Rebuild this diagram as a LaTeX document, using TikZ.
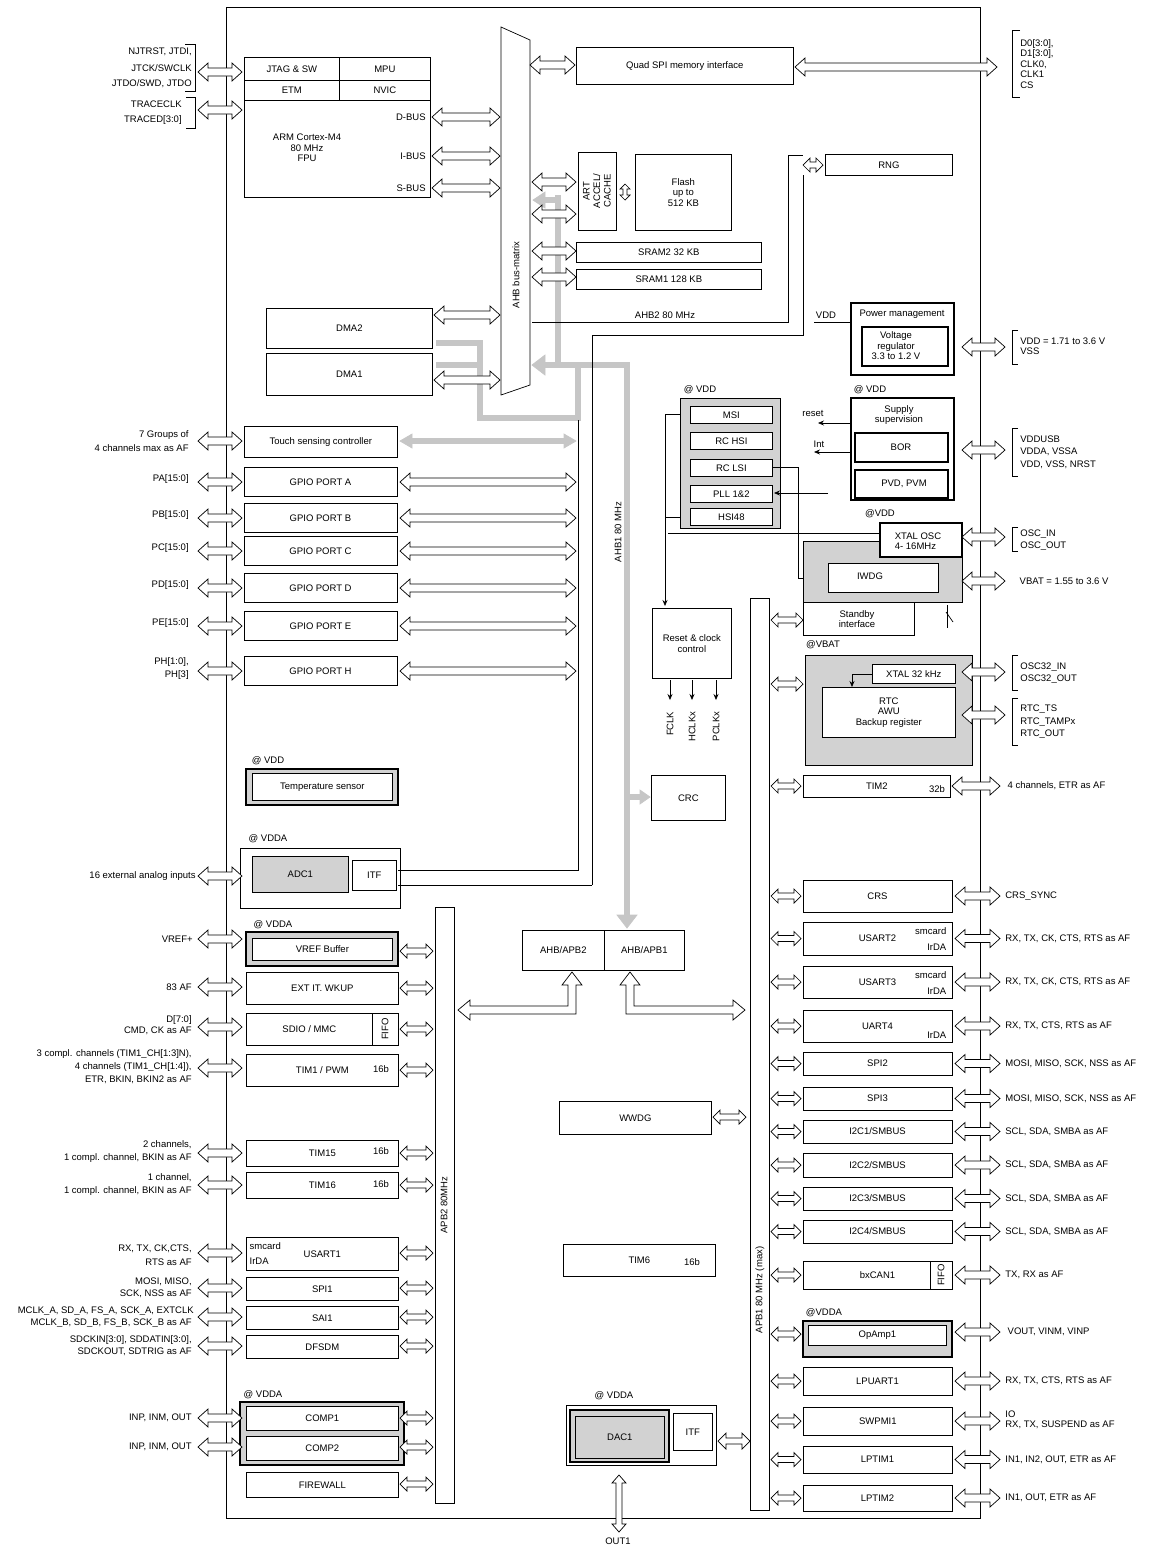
\documentclass[tikz,border=0pt]{standalone}
\usepackage{fontspec}
\setmainfont{Liberation Sans}
\usetikzlibrary{arrows.meta}
\newcommand\ha[6]{\draw[fill=white] (#1,#3) -- (#1+#4,#3-#5) -- (#1+#4,#3-#6) -- (#2-#4,#3-#6) -- (#2-#4,#3-#5) -- (#2,#3) -- (#2-#4,#3+#5) -- (#2-#4,#3+#6) -- (#1+#4,#3+#6) -- (#1+#4,#3+#5) -- cycle;}
\newcommand\va[6]{\draw[fill=white] (#3,#1) -- (#3-#5,#1+#4) -- (#3-#6,#1+#4) -- (#3-#6,#2-#4) -- (#3-#5,#2-#4) -- (#3,#2) -- (#3+#5,#2-#4) -- (#3+#6,#2-#4) -- (#3+#6,#1+#4) -- (#3+#5,#1+#4) -- cycle;}
\newcommand\harr[3]{\ha{#1}{#2}{#3}{10}{9}{4}}
\newcommand\sarr[3]{\ha{#1}{#2}{#3}{7}{7}{3}}
\newcommand\bx[6][]{\node[draw,fill=white,inner sep=0pt,minimum width={#4-#2},minimum height={#5-#3},anchor=north west,align=center,#1] (#2-#3) at (#2,#3) {#6};}
\newcommand\gbx[5]{\draw[fill=gray!35] (#1,#2) rectangle (#3,#4);}
\newcommand\lbl[3][left]{\node[#1,align=right,inner sep=1pt] at #2 {#3};}
\begin{document}
\begin{tikzpicture}[x=1pt,y=-1pt,font=\fontsize{9.5}{10.5}\selectfont,line width=0.7pt,
 garr/.style={draw=gray!45,line width=6pt},
 tip/.style={-{Stealth[length=6pt,width=5pt]}}]
\useasboundingbox (0,0) rectangle (1164,1548);
\draw[line width=1pt] (226,7) rectangle (980,1518);
% ---- CPU
\bx{244}{57}{339}{80}{JTAG \& SW}\bx{339}{57}{430}{80}{MPU}
\bx{244}{80}{339}{100}{ETM}\bx{339}{80}{430}{100}{NVIC}
\draw (244,100) rectangle (430,197);
\node[align=center] at (307,148) {ARM Cortex-M4\\80 MHz\\FPU};
\lbl{(427,117)}{D-BUS}\lbl{(427,156)}{I-BUS}\lbl{(427,188)}{S-BUS}
\harr{432}{500}{117}\harr{432}{500}{156}\harr{432}{500}{188}
\lbl{(193,52)}{NJTRST, JTDI,}\lbl{(193,68)}{JTCK/SWCLK}\lbl{(193,84)}{JTDO/SWD, JTDO}
\lbl{(183,104)}{TRACECLK}\lbl{(183,120)}{TRACED[3:0]}
\draw (185,44)--(195,44)--(195,91)--(185,91); \draw (186,97)--(195,97)--(195,128)--(186,128);
\harr{198}{242}{72}\harr{198}{242}{110}
% bus matrix
\draw[fill=white] (501,27)--(530,40)--(530,385)--(501,395)--cycle;
\node[rotate=90] at (516,275) {AHB bus-matrix};
% gray paths
\draw[garr] (558,195)--(558,365); \draw[garr] (540,365)--(627,365)--(627,915);
\draw[fill=gray!45,draw=gray!45] (617,915)--(637,915)--(627,928)--cycle;
\draw[fill=gray!45,draw=gray!45] (532,365)--(545,355)--(545,375)--cycle;
\draw[garr] (545,200)--(558,200); \draw[fill=gray!45,draw=gray!45] (533,200)--(545,192)--(545,208)--cycle;
\draw[garr] (436,343)--(480,343)--(480,418)--(578,418)--(578,365);
\draw[garr] (436,365)--(480,365);
\draw[garr] (411,441)--(565,441);
\draw[fill=gray!45,draw=gray!45] (400,441)--(412,434)--(412,448)--cycle;
\draw[fill=gray!45,draw=gray!45] (576,441)--(564,434)--(564,448)--cycle;
\draw[garr] (627,797)--(640,797); \draw[fill=gray!45,draw=gray!45] (650,797)--(640,790)--(640,804)--cycle;
% Quad SPI
\bx{576}{47}{793}{84}{Quad SPI memory interface}
\harr{530}{575}{65}\harr{795}{997}{67}
\draw (1020,30)--(1012,30)--(1012,97)--(1020,97);
\node[right,align=left,inner sep=0] at (1020,64) {D0[3:0],\\D1[3:0],\\CLK0,\\CLK1\\CS};
% flash
\bx{578}{152}{616}{230}{}\node[rotate=90,align=center] at (597,191) {ART\\ACCEL/\\CACHE};
\bx{635}{154}{731}{230}{Flash\\up to\\512 KB}
\va{184}{200}{625}{5}{5}{2}
\harr{532}{576}{182}\harr{532}{576}{214}\harr{532}{576}{251}\harr{532}{576}{277}
\bx{576}{242}{761}{262}{SRAM2 32 KB}\bx{576}{269}{761}{289}{SRAM1 128 KB}
% AHB2
\draw (532,322)--(788,322)--(788,155)--(803,155);
\node[above] at (665,322) {AHB2 80 MHz};
\draw (592,885)--(592,335)--(803,335)--(803,175);
\sarr{803}{823}{165}
\bx{825}{154}{952}{175}{RNG}
\draw (398,870)--(578,870)--(578,420);
\draw (398,885)--(592,885);
% power
\draw[line width=1.5pt] (851,303) rectangle (954,375);
\node at (902,314) {Power management};
\draw[line width=1.5pt] (862,327) rectangle (948,366);
\node[align=center] at (896,346) {Voltage\\regulator\\3.3 to 1.2 V};
\node at (826,315) {VDD}; \draw (814,322)--(851,322)--(851,340);
\harr{962}{1005}{347}
\draw (1018,330)--(1012,330)--(1012,364)--(1018,364);
\node[right,align=left,inner sep=0] at (1020,346) {VDD = 1.71 to 3.6 V\\VSS};
% DMA
\bx{266}{308}{432}{348}{DMA2}\bx{266}{353}{432}{395}{DMA1}
\harr{434}{500}{315}\harr{434}{500}{380}
% clocks
\node at (700,390) {@ VDD};
\gbx{680}{398}{780}{528}{}
\bx{690}{406}{772}{423}{MSI}\bx{690}{432}{772}{449}{RC HSI}\bx{690}{459}{772}{476}{RC LSI}
\bx{690}{485}{772}{502}{PLL 1\&2}\bx{690}{508}{772}{525}{HSI48}
\draw (680,414)--(665,414)--(665,517)--(680,517);
\draw[tip] (665,517)--(665,606);
\draw (772,467)--(798,467)--(798,578); \draw[tip] (798,578)--(826,578);
\draw[tip] (828,493)--(774,493);
\draw (668,533)--(880,533);
\bx{652}{608}{731}{678}{Reset \& clock\\control}
\draw[tip] (670,680)--(670,700);\draw[tip] (692,680)--(692,700);\draw[tip] (716,680)--(716,700);
\node[rotate=90,left] at (670,708) {FCLK};\node[rotate=90,left] at (692,708) {HCLKx};\node[rotate=90,left] at (716,708) {PCLKx};
% supply
\node at (870,390) {@ VDD};
\draw[line width=1.5pt] (851,398) rectangle (954,500);
\node[align=center] at (899,415) {Supply\\supervision};
\draw[line width=1.5pt] (855,433) rectangle (948,462); \node at (901,447) {BOR};
\draw[line width=1.5pt] (855,470) rectangle (948,498); \node at (904,484) {PVD, PVM};
\node at (813,413) {reset}; \draw[tip] (851,423)--(818,423);
\node at (819,444) {Int}; \draw[tip] (851,452)--(814,452);
\harr{962}{1005}{450}
\draw (1018,428)--(1012,428)--(1012,476)--(1018,476);
\node[right,align=left,inner sep=0] at (1020,452) {VDDUSB\\[2pt]VDDA, VSSA\\[2pt]VDD, VSS, NRST};
% xtal osc
\node at (880,514) {@VDD};
\gbx{803}{541}{962}{602}{}
\draw[fill=white] (828,563) rectangle (938,592); \node at (870,576) {IWDG};
\draw[line width=1.5pt,fill=white] (880,523) rectangle (962,557);
\node[align=left] at (918,541) {XTAL OSC\\4- 16MHz};
\draw (803,602) rectangle (914,635); \node[align=center] at (857,619) {Standby\\interface};
\draw (946,612)--(953,622); \draw (947,605)--(947,628);
\harr{962}{1005}{537}\harr{962}{1005}{581}
\draw (1018,527)--(1012,527)--(1012,551)--(1018,551);
\node[right,align=left,inner sep=0] at (1020,540) {OSC\_IN\\[2pt]OSC\_OUT};
\node[right] at (1016,581) {VBAT = 1.55 to 3.6 V};
% RTC
\node at (823,645) {@VBAT};
\gbx{805}{655}{972}{765}{}
\bx{872}{664}{955}{683}{XTAL 32 kHz}
\bx{822}{687}{955}{737}{RTC\\AWU\\Backup register}
\draw[tip] (872,674)--(852,674)--(852,687);
\harr{962}{1005}{672}\harr{962}{1005}{715}
\draw (1018,655)--(1012,655)--(1012,690)--(1018,690);
\node[right,align=left,inner sep=0] at (1020,673) {OSC32\_IN\\[2pt]OSC32\_OUT};
\draw (1018,698)--(1012,698)--(1012,745)--(1018,745);
\node[right,align=left,inner sep=0] at (1020,722) {RTC\_TS\\[2pt]RTC\_TAMPx\\[2pt]RTC\_OUT};
\sarr{771}{803}{620}\sarr{771}{803}{684}
% APB1
\bx{750}{598}{769}{1510}{}\node[rotate=90] at (760,1290) {APB1 80 MHz (max)};
\node[rotate=90] at (618,532) {AHB1 80 MHz};
\bx{651}{775}{725}{820}{CRC}
\bx{522}{930}{604}{970}{AHB/APB2}\bx{604}{930}{684}{970}{AHB/APB1}
\draw[fill=white] (572,972)--(582,985)--(576,985)--(576,1014)--(470,1014)--(470,1020)--(458,1010)--(470,1000)--(470,1006)--(568,1006)--(568,985)--(562,985)--cycle;
\draw[fill=white] (630,972)--(640,985)--(634,985)--(634,1006)--(733,1006)--(733,1000)--(745,1010)--(733,1020)--(733,1014)--(626,1014)--(626,985)--(620,985)--cycle;
% left
\bx{244}{426}{397}{457}{Touch sensing controller}
\lbl{(190,435)}{7 Groups of}\lbl{(190,448)}{4 channels max as AF}\harr{198}{242}{441}
\foreach \y/\t/\p in {482/A/PA[15:0],518/B/PB[15:0],551/C/PC[15:0],588/D/PD[15:0],626/E/PE[15:0],671/H/}{
 \node[draw,fill=white,minimum width=153,minimum height=29,inner sep=0] (gp\t) at (320.5,\y) {GPIO PORT \t};
 \harr{198}{242}{\y}\harr{400}{576}{\y}
 \node[left,inner sep=1pt] at (190,\y-3) {\p};}
\lbl{(190,662)}{PH[1:0],}\lbl{(190,675)}{PH[3]}
\node at (268,761) {@ VDD};
\draw[line width=1.5pt,fill=gray!35] (246,769) rectangle (398,805);
\bx{252}{773}{392}{800}{Temperature sensor}
\node at (268,839) {@ VDDA};
\draw (240,848) rectangle (400,908);
\bx[fill=gray!35]{252}{856}{348}{892}{ADC1}\bx{352}{860}{396}{890}{ITF}
\lbl{(197,876)}{16 external analog inputs}\harr{198}{242}{876}
\bx{435}{907}{454}{1503}{}\node[rotate=90] at (444,1205) {APB2 80MHz};
\node at (273,925) {@ VDDA};
\draw[line width=1.5pt,fill=gray!35] (246,932) rectangle (398,966);
\bx{252}{938}{392}{960}{VREF Buffer}
\lbl{(194,939)}{VREF+}
\bx{246}{972}{398}{1004}{EXT IT. WKUP}\lbl{(193,987)}{83 AF}
\bx{246}{1013}{372}{1045}{SDIO / MMC}\bx{372}{1013}{398}{1045}{}\node[rotate=90] at (385,1029) {FIFO};
\lbl{(193,1020)}{D[7:0]}\lbl{(193,1031)}{CMD, CK as AF}
\bx{246}{1054}{398}{1086}{TIM1 / PWM}\node at (381,1069) {16b};
\lbl{(193,1054)}{3 compl. channels (TIM1\_CH[1:3]N),}\lbl{(193,1067)}{4 channels (TIM1\_CH[1:4]),}\lbl{(193,1080)}{ETR, BKIN, BKIN2 as AF}
\bx{246}{1140}{398}{1166}{TIM15}\node at (381,1151) {16b};
\lbl{(193,1145)}{2 channels,}\lbl{(193,1158)}{1 compl. channel, BKIN as AF}
\bx{246}{1172}{398}{1198}{TIM16}\node at (381,1184) {16b};
\lbl{(193,1178)}{1 channel,}\lbl{(193,1191)}{1 compl. channel, BKIN as AF}
\bx{246}{1237}{398}{1270}{USART1}\node[right] at (246,1246) {smcard};\node[right] at (246,1261) {IrDA};
\lbl{(193,1249)}{RX, TX, CK,CTS,}\lbl{(193,1262)}{RTS as AF}
\bx{246}{1277}{398}{1300}{SPI1}\lbl{(193,1282)}{MOSI, MISO,}\lbl{(193,1294)}{SCK, NSS as AF}
\bx{246}{1306}{398}{1329}{SAI1}\lbl{(195,1311)}{MCLK\_A, SD\_A, FS\_A, SCK\_A, EXTCLK}\lbl{(193,1323)}{MCLK\_B, SD\_B, FS\_B, SCK\_B as AF}
\bx{246}{1335}{398}{1358}{DFSDM}\lbl{(193,1340)}{SDCKIN[3:0], SDDATIN[3:0],}\lbl{(193,1352)}{SDCKOUT, SDTRIG as AF}
\node at (263,1395) {@ VDDA};
\draw[line width=1.5pt,fill=gray!35] (240,1402) rectangle (404,1465);
\bx{246}{1406}{398}{1430}{COMP1}\bx{246}{1436}{398}{1460}{COMP2}
\lbl{(193,1418)}{INP, INM, OUT}\lbl{(193,1447)}{INP, INM, OUT}
\harr{198}{242}{1418}\harr{198}{242}{1447}
\bx{246}{1472}{398}{1497}{FIREWALL}
\foreach \y in {951,988,1029,1070,1153,1185,1253,1288,1317,1346,1418,1447,1484}{\sarr{400}{433}{\y}}
\foreach \y in {939,987,1027,1068,1153,1185,1253,1288,1317,1346}{\harr{198}{242}{\y}}
% middle
\bx{559}{1101}{711}{1134}{WWDG}\sarr{713}{746}{1117}
\bx{563}{1244}{715}{1276}{TIM6}\node at (692,1262) {16b};
\node at (614,1396) {@ VDDA};
\draw (566,1405) rectangle (716,1465);
\draw[line width=1.5pt,fill=gray!35] (570,1410) rectangle (669,1462);
\bx[fill=gray!35]{575}{1416}{664}{1458}{DAC1}\bx{673}{1413}{712}{1450}{ITF}
\ha{718}{750}{1441}{8}{8}{3}
\va{1475}{1532}{619}{8}{7}{3}\node at (618,1541) {OUT1};
% right
\bx{803}{775}{950}{797}{TIM2}\node at (937,789) {32b};
\sarr{771}{801}{786}\harr{952}{1000}{786}\node[right] at (1004,786) {4 channels, ETR as AF};
\foreach \a/\b/\t/\r in {880/912/CRS/CRS\_SYNC,922/955/USART2/{RX, TX, CK, CTS, RTS as AF},966/998/USART3/{RX, TX, CK, CTS, RTS as AF},1010/1042/UART4/{RX, TX, CTS, RTS as AF},1052/1075/SPI2/{MOSI, MISO, SCK, NSS as AF},1087/1110/SPI3/{MOSI, MISO, SCK, NSS as AF},1120/1143/{I2C1/SMBUS}/{SCL, SDA, SMBA as AF},1153/1177/{I2C2/SMBUS}/{SCL, SDA, SMBA as AF},1187/1210/{I2C3/SMBUS}/{SCL, SDA, SMBA as AF},1220/1243/{I2C4/SMBUS}/{SCL, SDA, SMBA as AF},1261/1289/bxCAN1/{TX, RX as AF},1367/1395/LPUART1/{RX, TX, CTS, RTS as AF},1446/1473/LPTIM1/{IN1, IN2, OUT, ETR as AF},1485/1511/LPTIM2/{IN1, OUT, ETR as AF}}{
 \pgfmathsetmacro\ym{(\a+\b)/2}\pgfmathsetmacro\hh{\b-\a}
 \node[draw,fill=white,minimum width=149,minimum height=\hh,inner sep=0] at (877.5,\ym) {\t};
 \sarr{771}{801}{\ym}\harr{955}{1000}{\ym}
 \node[right,inner sep=1pt] at (1004,\ym) {\r};}
\bx{803}{1407}{952}{1435}{SWPMI1}\sarr{771}{801}{1421}\harr{955}{1000}{1421}
\node[right,align=left,inner sep=1pt] at (1004,1420) {IO\\RX, TX, SUSPEND as AF};
\node[left] at (950,931) {smcard};\node[left] at (950,947) {IrDA};
\node[left] at (950,975) {smcard};\node[left] at (950,991) {IrDA};
\node[left] at (950,1035) {IrDA};
\draw (930,1261)--(930,1289); \node[rotate=90] at (941,1275) {FIFO};
\node at (824,1313) {@VDDA};
\draw[line width=1.5pt,fill=gray!35] (803,1321) rectangle (952,1357);
\bx{808}{1325}{946}{1345}{OpAmp1}
\sarr{771}{801}{1334}\harr{955}{1000}{1332}\node[right] at (1004,1332) {VOUT, VINM, VINP};
\end{tikzpicture}
\end{document}
